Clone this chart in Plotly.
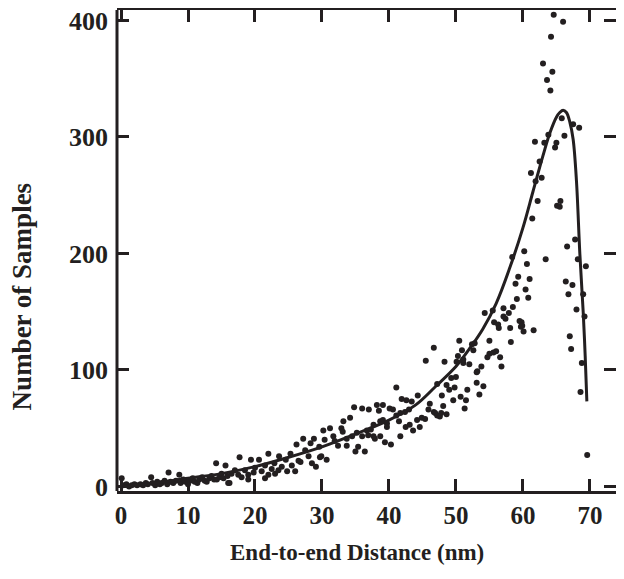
import plotly.graph_objects as go

# scatter samples
sample_x = [0.1, 0.3, 0.8, 1.2, 1.6, 2.0, 2.4, 2.9, 3.3, 3.7, 4.0, 4.5, 4.7, 5.1, 5.4, 5.8, 6.1, 6.5, 6.9, 7.1,
            7.4, 7.8, 8.2, 8.7, 8.9, 9.3, 9.6, 10.0, 10.3, 10.7, 11.0, 11.4, 11.7, 12.1, 12.5, 12.8, 13.2, 13.5, 13.9, 14.2,
            14.3, 14.7, 15.0, 15.3, 15.6, 15.9, 16.0,
            16.2, 16.5, 17.0, 17.5, 17.7, 18.0, 18.5, 19.0, 19.0, 19.4, 19.8, 20.0, 20.6, 21.0, 21.5, 21.5, 22.0, 22.0, 22.5,
            22.9, 23.0, 23.5, 23.6, 24.0, 24.6, 24.8, 25.3, 25.5, 26.0, 26.2, 26.5, 26.8, 27.2, 27.5, 28.0, 28.3, 28.5, 28.8,
            29.1, 29.6, 29.7, 29.9, 30.2, 30.4, 30.7,
            31.2, 31.7, 31.9, 32.4, 32.9, 33.1, 33.2, 33.7, 33.7, 34.2, 34.5, 34.8, 35.0, 35.2, 35.4, 36.0, 36.0, 36.4, 36.7,
            36.9, 37.0, 37.3, 37.7, 37.7, 37.9, 38.2, 38.5, 38.7, 38.7, 39.1, 39.1, 39.4, 39.7, 39.7, 40.1, 40.3, 40.6, 41.1,
            41.1, 41.5, 41.7, 41.7, 41.9, 42.4, 42.5, 42.6, 43.0, 43.1, 43.4, 43.6, 44.2, 44.3, 44.6, 44.9, 45.4, 45.5, 45.9,
            46.1, 46.7, 46.7, 46.9, 47.2, 47.2, 47.6,
            47.8, 47.9, 48.1, 48.3, 48.6, 48.6, 49.0, 49.3, 49.6, 49.8, 50.0, 50.1, 50.3, 50.5, 50.7, 50.9, 51.1, 51.1, 51.3,
            51.5, 51.7, 52.0, 52.4, 52.6, 52.8, 53.1, 53.1, 53.2, 53.5, 53.8, 54.1, 54.3, 54.7, 55.0, 55.0, 55.5, 55.6, 55.7,
            56.0, 56.3, 56.4, 56.6, 56.8, 57.1, 57.1, 57.4, 57.9, 58.1, 58.2, 58.4, 58.5, 58.9, 59.1, 59.3, 59.5, 59.7, 59.8,
            59.9, 60.1,
            60.2, 60.4, 60.6, 60.8, 61.0, 61.2, 61.4, 61.6, 61.8, 61.9, 62.2, 62.5, 62.8, 63.0, 63.2, 63.4, 63.6, 63.8, 64.1,
            64.2, 64.4, 64.6, 64.8, 65.0, 65.1, 65.5, 65.6, 65.8, 66.0, 66.2, 66.4, 66.6, 66.8, 67.0, 67.2, 67.4, 67.5, 67.8,
            68.0, 68.2, 68.4, 68.6, 68.8, 69.0, 69.2, 69.4, 69.6]
sample_y = [7, 1, 2, 0, 1, 2, 1, 2, 1, 3, 2, 8, 3, 1, 4, 2, 3, 5, 2, 12,
            4, 3, 5, 10, 3, 6, 4, 2, 5, 7, 4, 3, 6, 8, 5, 4, 7, 9, 6, 20,
            6, 8, 11, 7, 18, 9, 3,
            3, 11, 14, 10, 25, 8, 14, 10, 6, 23, 12, 16, 23, 13, 18, 7, 10, 28, 15,
            20, 11, 14, 26, 17, 23, 13, 28, 18, 13, 36, 22, 21, 41, 31, 26, 37, 20, 41,
            17, 34, 25, 26, 48, 40, 23,
            50, 43, 39, 35, 50, 47, 56, 41, 35, 59, 43, 68, 30, 46, 34, 67, 43, 30, 48,
            44, 66, 49, 53, 43, 41, 70, 65, 56, 43, 70, 57, 38, 54, 51, 67, 36, 66, 85,
            61, 56, 63, 43, 75, 64, 51, 74, 66, 53, 73, 48, 57, 78, 51, 59, 58, 108, 66,
            71, 119, 64, 63, 88, 61, 60,
            63, 78, 69, 107, 87, 62, 83, 93, 74, 85, 94, 107, 112, 125, 77, 117, 106, 109, 67,
            74, 83, 105, 122, 117, 123, 89, 98, 99, 79, 103, 86, 149, 111, 114, 125, 151, 115, 141,
            116, 139, 136, 111, 103, 153, 146, 144, 149, 136, 124, 197, 154, 174, 161, 180, 142, 137, 141,
            138, 133,
            202, 169, 191, 162, 178, 269, 230, 134, 296, 262, 245, 279, 265, 363, 295, 195, 349, 302, 340,
            386, 356, 405, 291, 295, 241, 240, 245, 316, 399, 301, 176, 206, 165, 129, 118, 173, 311, 212,
            152, 195, 308, 81, 106, 165, 146, 189, 27]

# fitted distribution
fit_x = [0, 5, 10, 15, 20, 25, 30, 35, 40, 44, 47, 50, 52, 54, 56, 58, 60, 61.5, 63, 64, 65, 65.5,
         66, 66.5, 67, 67.5, 68, 68.5, 69, 69.3, 69.55]
fit_y = [0, 3, 7, 11, 17, 25, 34, 45, 57, 70, 86, 103, 118, 135, 157, 187, 222, 253, 284, 303, 317, 321,
         323, 321, 313, 298, 262, 200, 150, 112, 73]

ink = '#231f20'
font = 'Liberation Serif, Times New Roman, serif'

fig = go.Figure()
fig.add_trace(go.Scatter(x=sample_x, y=sample_y, mode='markers',
                         marker=dict(size=6, color=ink), showlegend=False))
fig.add_trace(go.Scatter(x=fit_x, y=fit_y, mode='lines',
                         line=dict(color=ink, width=3, shape='spline', smoothing=1),
                         showlegend=False))

fig.update_layout(
    width=608, height=563,
    margin=dict(l=109, r=0, t=2, b=80),
    paper_bgcolor='white', plot_bgcolor='white',
    font=dict(family=font, size=25, color=ink),
    xaxis=dict(range=[-0.6, 73.9], tickvals=[0, 10, 20, 30, 40, 50, 60, 70],
               showgrid=False, zeroline=False, showline=True, linecolor=ink, linewidth=3,
               mirror='ticks', ticks='inside', ticklen=12, tickwidth=3, tickcolor=ink,
               ticklabeloverflow='allow',
               tickfont=dict(family=font, size=25, color=ink, weight='bold')),
    yaxis=dict(range=[-3.9, 409], tickvals=[0, 100, 200, 300, 400],
               showgrid=False, zeroline=False, showline=False,
               mirror='ticks', ticks='inside', ticklen=12, tickwidth=3, tickcolor=ink,
               ticklabelstandoff=8, ticklabeloverflow='allow',
               tickfont=dict(family=font, size=26, color=ink, weight='bold')),
    shapes=[dict(type='line', xref='paper', yref='paper', x0=0, x1=0, y0=0, y1=1,
                 line=dict(color=ink, width=3))],
    annotations=[
        dict(text='<b>End-to-end Distance (nm)</b>', xref='paper', yref='paper',
             x=0.481, y=-0.127, xanchor='center', yanchor='middle', showarrow=False,
             font=dict(family=font, size=23, color=ink)),
        dict(text='<b>Number of Samples</b>', xref='paper', yref='paper',
             x=-0.19, y=0.405, xanchor='center', yanchor='middle', textangle=-90, showarrow=False,
             font=dict(family=font, size=27, color=ink)),
    ],
)

fig.write_html('out.html')
